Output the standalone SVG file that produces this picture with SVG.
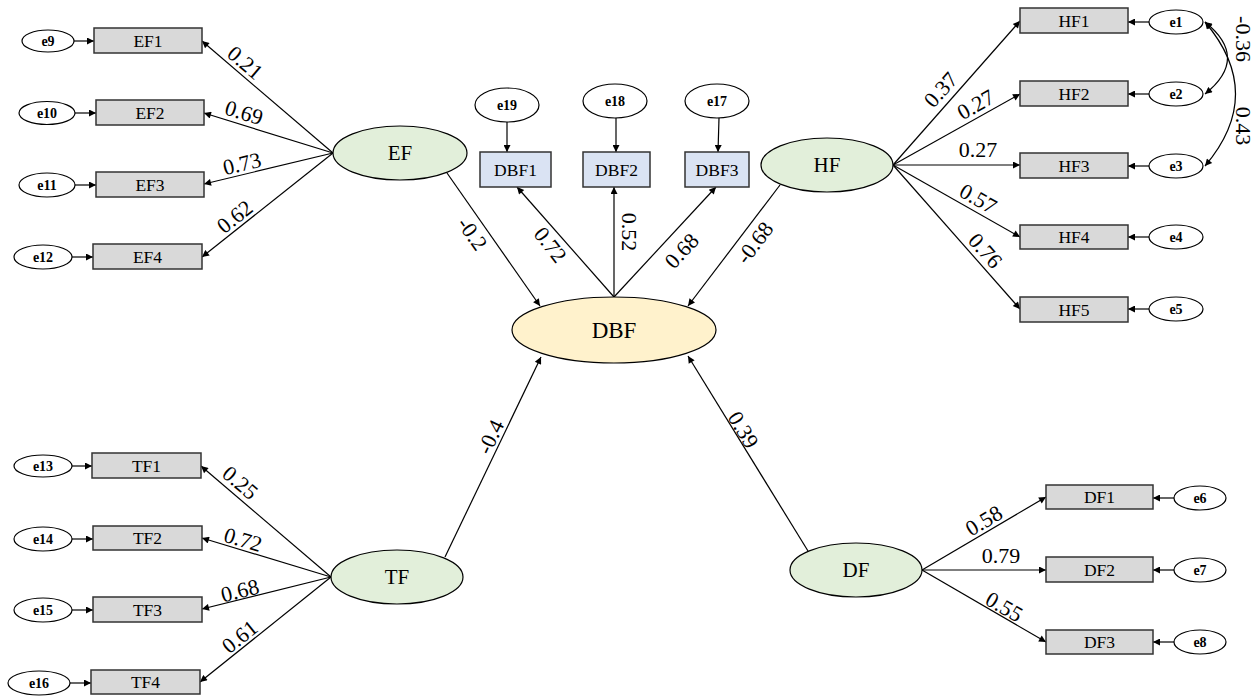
<svg xmlns="http://www.w3.org/2000/svg" width="1255" height="700" viewBox="0 0 1255 700" font-family="'Liberation Serif', 'DejaVu Serif', serif">
<style>
.obs{fill:#D9D9D9;stroke:#333;stroke-width:1.5}
.dbi{fill:#DAE3F3;stroke:#333;stroke-width:1.5}
.lat{fill:#E2EFDA;stroke:#000;stroke-width:1.2}
.dbf{fill:#FFF2CC;stroke:#000;stroke-width:1.2}
.err{fill:#fff;stroke:#000;stroke-width:1.2}
text{font-family:'Liberation Serif','DejaVu Serif',serif;text-anchor:middle;fill:#000}
.t{font-size:17.5px}
.tl{font-size:21px}
.td{font-size:23px}
.te{font-size:14px;font-weight:bold}
.lbl{font-size:22px}
.c{fill:none;stroke:#000;stroke-width:1.2;marker-end:url(#ah)}
.cc{fill:none;stroke:#000;stroke-width:1.2;marker-start:url(#ah);marker-end:url(#ah)}
</style>
<defs>
<marker id="ah" viewBox="0 0 10 10" refX="10" refY="5" markerWidth="9" markerHeight="7" markerUnits="userSpaceOnUse" orient="auto-start-reverse"><path d="M0,0 L10,5 L0,10 z" fill="#000"/></marker>
</defs>
<rect width="1255" height="700" fill="#fff"/>
<g id="connectors">
<path class="c" d="M333,153 L202,41"/>
<path class="c" d="M333,153 L204,113"/>
<path class="c" d="M333,153 L204,184"/>
<path class="c" d="M333,153 L202,257"/>
<path class="c" d="M74,41 L94,41"/>
<path class="c" d="M75,113 L96,113"/>
<path class="c" d="M75,185 L96,185"/>
<path class="c" d="M72,257 L93,257"/>
<path class="c" d="M331,577 L201,466"/>
<path class="c" d="M331,577 L202,538"/>
<path class="c" d="M331,577 L202,609"/>
<path class="c" d="M331,577 L200,682"/>
<path class="c" d="M72,466 L92,466"/>
<path class="c" d="M72,539 L93,539"/>
<path class="c" d="M72,610 L93,610"/>
<path class="c" d="M70,683 L91,683"/>
<path class="c" d="M893,165 L1020,21"/>
<path class="c" d="M893,165 L1020,94"/>
<path class="c" d="M893,165 L1020,165"/>
<path class="c" d="M893,165 L1020,237"/>
<path class="c" d="M893,165 L1020,309"/>
<path class="c" d="M1149,22 L1128,22"/>
<path class="c" d="M1149,94 L1128,94"/>
<path class="c" d="M1149,166 L1128,166"/>
<path class="c" d="M1149,237 L1128,237"/>
<path class="c" d="M1149,309 L1128,309"/>
<path class="cc" d="M1205,22 Q1250,58 1205,94"/>
<path class="cc" d="M1205,22 Q1266,94 1205,166"/>
<path class="c" d="M922,570 L1046,497"/>
<path class="c" d="M922,570 L1046,570"/>
<path class="c" d="M922,570 L1046,642"/>
<path class="c" d="M1174,498 L1153,498"/>
<path class="c" d="M1174,570 L1153,570"/>
<path class="c" d="M1174,642 L1153,642"/>
<path class="c" d="M614,297 L517,187"/>
<path class="c" d="M614,297 L614,187"/>
<path class="c" d="M614,297 L716,187"/>
<path class="c" d="M507,122 L507,152"/>
<path class="c" d="M616,118 L616,152"/>
<path class="c" d="M719,118 L718,152"/>
<path class="c" d="M447,173 L540,306"/>
<path class="c" d="M780,185 L688,306"/>
<path class="c" d="M445,557 L541,357"/>
<path class="c" d="M808,551 L688,356"/>
<text class="lbl" transform="translate(245,63) rotate(40.5)" y="7">0.21</text>
<text class="lbl" transform="translate(244,113) rotate(17)" y="7">0.69</text>
<text class="lbl" transform="translate(242,164) rotate(-13.5)" y="7">0.73</text>
<text class="lbl" transform="translate(235,217) rotate(-38.4)" y="7">0.62</text>
<text class="lbl" transform="translate(240,483) rotate(40.5)" y="7">0.25</text>
<text class="lbl" transform="translate(243,540) rotate(16.8)" y="7">0.72</text>
<text class="lbl" transform="translate(240,591) rotate(-13.9)" y="7">0.68</text>
<text class="lbl" transform="translate(240,637) rotate(-38.7)" y="7">0.61</text>
<text class="lbl" transform="translate(941,90) rotate(-48.6)" y="7">0.37</text>
<text class="lbl" transform="translate(976,105) rotate(-29.2)" y="7">0.27</text>
<text class="lbl" transform="translate(978,150)" y="7">0.27</text>
<text class="lbl" transform="translate(978,199) rotate(29.5)" y="7">0.57</text>
<text class="lbl" transform="translate(985,251) rotate(48.6)" y="7">0.76</text>
<text class="lbl" transform="translate(1243,39) rotate(90)" y="7">-0.36</text>
<text class="lbl" transform="translate(1243,126) rotate(90)" y="7">0.43</text>
<text class="lbl" transform="translate(984,521) rotate(-30.5)" y="7">0.58</text>
<text class="lbl" transform="translate(1001,556)" y="7">0.79</text>
<text class="lbl" transform="translate(1004,607) rotate(30.1)" y="7">0.55</text>
<text class="lbl" transform="translate(472,234) rotate(54.8)" y="7">-0.2</text>
<text class="lbl" transform="translate(550,245) rotate(52)" y="7">0.72</text>
<text class="lbl" transform="translate(629,232) rotate(90)" y="7">0.52</text>
<text class="lbl" transform="translate(682,251) rotate(-47.2)" y="7">0.68</text>
<text class="lbl" transform="translate(755,243) rotate(-52.7)" y="7">-0.68</text>
<text class="lbl" transform="translate(491,437) rotate(-64.5)" y="7">-0.4</text>
<text class="lbl" transform="translate(743,430) rotate(58.4)" y="7">0.39</text>
</g>
<g id="EF"><ellipse class="lat" cx="400" cy="153" rx="67" ry="27"/><text class="tl" x="400" y="160">EF</text></g>
<g id="EF1"><rect class="obs" x="94" y="28" width="108" height="25"/><text class="t" x="148" y="46.5">EF1</text></g>
<g id="EF2"><rect class="obs" x="96" y="100" width="108" height="25"/><text class="t" x="150" y="118.5">EF2</text></g>
<g id="EF3"><rect class="obs" x="96" y="172" width="108" height="25"/><text class="t" x="150" y="190.5">EF3</text></g>
<g id="EF4"><rect class="obs" x="93" y="244" width="109" height="25"/><text class="t" x="147.5" y="262.5">EF4</text></g>
<g id="e9"><ellipse class="err" cx="48" cy="41" rx="26" ry="11"/><text class="te" x="48" y="46">e9</text></g>
<g id="e10"><ellipse class="err" cx="47" cy="113" rx="28" ry="11.5"/><text class="te" x="47" y="118">e10</text></g>
<g id="e11"><ellipse class="err" cx="47" cy="185" rx="28" ry="12"/><text class="te" x="47" y="190">e11</text></g>
<g id="e12"><ellipse class="err" cx="43" cy="257" rx="29" ry="12"/><text class="te" x="43" y="262">e12</text></g>
<g id="TF"><ellipse class="lat" cx="397" cy="577" rx="66" ry="27"/><text class="tl" x="397" y="584">TF</text></g>
<g id="TF1"><rect class="obs" x="92" y="453" width="109" height="25"/><text class="t" x="146.5" y="471.5">TF1</text></g>
<g id="TF2"><rect class="obs" x="93" y="526" width="109" height="24"/><text class="t" x="147.5" y="544">TF2</text></g>
<g id="TF3"><rect class="obs" x="93" y="597" width="109" height="25"/><text class="t" x="147.5" y="615.5">TF3</text></g>
<g id="TF4"><rect class="obs" x="91" y="670" width="109" height="24"/><text class="t" x="145.5" y="688">TF4</text></g>
<g id="e13"><ellipse class="err" cx="43" cy="466" rx="29" ry="11"/><text class="te" x="43" y="471">e13</text></g>
<g id="e14"><ellipse class="err" cx="43" cy="539" rx="29" ry="12"/><text class="te" x="43" y="544">e14</text></g>
<g id="e15"><ellipse class="err" cx="43" cy="610" rx="29" ry="12"/><text class="te" x="43" y="615">e15</text></g>
<g id="e16"><ellipse class="err" cx="39" cy="683" rx="31" ry="12"/><text class="te" x="39" y="688">e16</text></g>
<g id="HF"><ellipse class="lat" cx="827" cy="165" rx="66" ry="27"/><text class="tl" x="827" y="172">HF</text></g>
<g id="HF1"><rect class="obs" x="1020" y="8" width="108" height="25"/><text class="t" x="1074" y="26.5">HF1</text></g>
<g id="HF2"><rect class="obs" x="1020" y="81" width="108" height="25"/><text class="t" x="1074" y="99.5">HF2</text></g>
<g id="HF3"><rect class="obs" x="1020" y="153" width="108" height="25"/><text class="t" x="1074" y="171.5">HF3</text></g>
<g id="HF4"><rect class="obs" x="1020" y="225" width="108" height="24"/><text class="t" x="1074" y="243">HF4</text></g>
<g id="HF5"><rect class="obs" x="1020" y="297" width="108" height="25"/><text class="t" x="1074" y="315.5">HF5</text></g>
<g id="e1"><ellipse class="err" cx="1176" cy="22" rx="27" ry="12"/><text class="te" x="1176" y="27">e1</text></g>
<g id="e2"><ellipse class="err" cx="1176" cy="94" rx="27" ry="12"/><text class="te" x="1176" y="99">e2</text></g>
<g id="e3"><ellipse class="err" cx="1176" cy="166" rx="27" ry="12"/><text class="te" x="1176" y="171">e3</text></g>
<g id="e4"><ellipse class="err" cx="1176" cy="237" rx="27" ry="12"/><text class="te" x="1176" y="242">e4</text></g>
<g id="e5"><ellipse class="err" cx="1176" cy="309" rx="27" ry="12"/><text class="te" x="1176" y="314">e5</text></g>
<g id="DF"><ellipse class="lat" cx="856" cy="570" rx="66" ry="27"/><text class="tl" x="856" y="577">DF</text></g>
<g id="DF1"><rect class="obs" x="1046" y="485" width="107" height="24"/><text class="t" x="1099.5" y="503">DF1</text></g>
<g id="DF2"><rect class="obs" x="1046" y="557" width="107" height="25"/><text class="t" x="1099.5" y="575.5">DF2</text></g>
<g id="DF3"><rect class="obs" x="1046" y="630" width="107" height="24"/><text class="t" x="1099.5" y="648">DF3</text></g>
<g id="e6"><ellipse class="err" cx="1200" cy="498" rx="26" ry="12"/><text class="te" x="1200" y="503">e6</text></g>
<g id="e7"><ellipse class="err" cx="1200" cy="570" rx="26" ry="12"/><text class="te" x="1200" y="575">e7</text></g>
<g id="e8"><ellipse class="err" cx="1200" cy="642" rx="26" ry="12"/><text class="te" x="1200" y="647">e8</text></g>
<g id="DBF"><ellipse class="dbf" cx="614" cy="330" rx="102" ry="33"/><text class="td" x="614" y="338">DBF</text></g>
<g id="DBF1"><rect class="dbi" x="480" y="152" width="71" height="35"/><text class="t" x="515.5" y="175.5">DBF1</text></g>
<g id="DBF2"><rect class="dbi" x="583" y="152" width="67" height="35"/><text class="t" x="616.5" y="175.5">DBF2</text></g>
<g id="DBF3"><rect class="dbi" x="685" y="152" width="64" height="35"/><text class="t" x="717" y="175.5">DBF3</text></g>
<g id="e19"><ellipse class="err" cx="507" cy="105" rx="32" ry="17"/><text class="te" x="507" y="110">e19</text></g>
<g id="e18"><ellipse class="err" cx="615" cy="101" rx="32" ry="17"/><text class="te" x="615" y="106">e18</text></g>
<g id="e17"><ellipse class="err" cx="717" cy="101" rx="32" ry="17"/><text class="te" x="717" y="106">e17</text></g>
</svg>
